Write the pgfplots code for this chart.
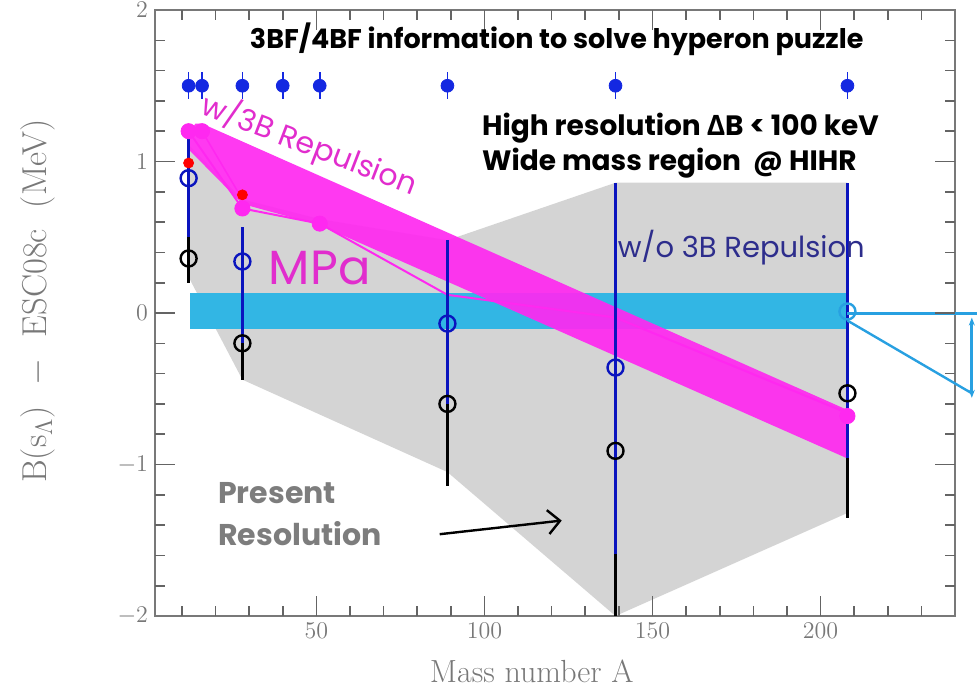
\documentclass[border=0pt]{standalone}
\usepackage{pgfplots}
\pgfplotsset{compat=1.18}
\usetikzlibrary{arrows.meta}
\usepackage{fontspec}
\newfontfamily\gothic{Poppins}
\newfontfamily\greek{Open Sans}
\definecolor{grayreg}{RGB}{212,212,212}
\definecolor{cyanb}{RGB}{50,182,228}
\definecolor{cyanl}{RGB}{40,160,225}
\definecolor{mag}{RGB}{255,40,240}
\definecolor{magtxt}{RGB}{225,45,205}
\definecolor{bluept}{RGB}{20,40,225}
\definecolor{bluebar}{RGB}{10,20,190}
\definecolor{navytxt}{RGB}{45,45,140}
\definecolor{axgray}{RGB}{120,120,120}
\definecolor{tickgray}{RGB}{100,100,100}
\definecolor{presgray}{RGB}{125,125,125}
\begin{document}
\begin{tikzpicture}
\begin{axis}[
  width=400pt, height=303pt, scale only axis,
  xmin=2, xmax=240, ymin=-2, ymax=2,
  clip=false,
  unbounded coords=jump,
  axis line style={axgray, line width=0.9pt},
  xtick={50,100,150,200},
  ytick={-2,-1,0,1,2},
  tick style={tickgray, line width=0.8pt},
  major tick length=10pt,
  tick label style={font=\large, text=axgray},
  xlabel={Mass number A},
  xlabel style={font=\fontsize{16}{19}\selectfont, text=axgray, at={(axis description cs:0.471,-0.092)}, anchor=center},
]
% Present resolution region
\addplot[fill=grayreg, draw=none] coordinates {(12.4,1.1) (28,0.75) (51,0.62) (89,0.48) (139,0.86) (208,0.86) (208,-1.32) (139,-2.0) (89,-1.05) (28,-0.44) (12.4,0.22)} -- cycle;
% HIHR band
\addplot[fill=cyanb, draw=none] coordinates {(12.4,0.13) (208,0.13) (208,-0.105) (12.4,-0.105)} -- cycle;
% w/ 3B repulsion band
\addplot[fill=mag, draw=none, fill opacity=0.92] coordinates {(12,1.18) (14,1.25) (16,1.25) (208,-0.64) (208,-0.96) (51,0.58) (28,0.72) (12,1.08)} -- cycle;
% MPa lines
\addplot[mag, line width=1pt] coordinates {(12,1.2) (28,0.69) (51,0.59) (89,0.12) (139,-0.03) (208,-0.66)};
\addplot[mag, line width=0.8pt] coordinates {(16,1.2) (28,0.75)};
% black error bars
\addplot[draw=none, mark=none, error bars/.cd, y dir=both, y explicit, error mark=none,
  error bar style={draw=black, line width=1.8pt}] coordinates {
  (12,0.36) += (0,0.26) -= (0,0.16)
  (28,-0.2) += (0,0.3) -= (0,0.24)
  (89,-0.6) += (0,0.53) -= (0,0.54)
  (139,-0.91) += (0,0.55) -= (0,1.09)
  (208,-0.53) += (0,0.0) -= (0,0.82)
};
% blue error bars
\addplot[draw=none, mark=none, error bars/.cd, y dir=both, y explicit, error mark=none,
  error bar style={draw=bluebar, line width=1.6pt}] coordinates {
  (12,0.89) += (0,0.26) -= (0,0.39)
  (28,0.34) += (0,0.23) -= (0,0.54)
  (89,-0.07) += (0,0.55) -= (0,0.53)
  (139,-0.36) += (0,1.22) -= (0,1.23)
  (208,-0.53) += (0,1.39) -= (0,0.43)
};
% circles
\addplot[only marks, mark=o, mark size=4pt, black, line width=1.2pt] coordinates {(12,0.36) (28,-0.2) (89,-0.6) (139,-0.91) (208,-0.53)};
\addplot[only marks, mark=o, mark size=4pt, bluebar, line width=1.2pt] coordinates {(12,0.89) (28,0.34) (89,-0.07) (139,-0.36)};
\addplot[only marks, mark=o, mark size=4pt, cyanl, line width=1.2pt] coordinates {(208,0.01)};
% magenta and red points
\addplot[only marks, mark=*, mark size=2.5pt, red] coordinates {(12,0.99) (28,0.78)};
\addplot[only marks, mark=*, mark size=3.8pt, mag] coordinates {(12,1.2) (16,1.2) (28,0.69) (51,0.59) (208,-0.68)};
% top blue points
\addplot[only marks, mark=*, mark size=3.2pt, bluept, error bars/.cd, y dir=both, y explicit, error mark=none,
  error bar style={draw=bluept, line width=0.8pt}] coordinates {
  (12,1.5) +- (0,0.09) (16,1.5) +- (0,0.09) (28,1.5) +- (0,0.09) (40,1.5) +- (0,0.09)
  (51,1.5) +- (0,0.09) (89,1.5) +- (0,0.09) (139,1.5) +- (0,0.09) (208,1.5) +- (0,0.09)};
% cyan annotation at right
\addplot[cyanl, line width=1.5pt] coordinates {(208,0.0) (246.5,0.0)};
\addplot[cyanl, line width=1.2pt] coordinates {(208,-0.05) (245,-0.53)};
\addplot[cyanl, line width=1.5pt, {Stealth[length=4pt]}-{Stealth[length=4pt]}] coordinates {(245,-0.03) (245,-0.56)};
% frame ticks, inside, on all four sides
\addplot[tickgray, line width=0.8pt, mark=none] coordinates {
 (10,-2) (10,-1.934) (10,nan) (20,-2) (20,-1.934) (20,nan) (30,-2) (30,-1.934) (30,nan) (40,-2) (40,-1.934) (40,nan)
 (60,-2) (60,-1.934) (60,nan) (70,-2) (70,-1.934) (70,nan) (80,-2) (80,-1.934) (80,nan) (90,-2) (90,-1.934) (90,nan)
 (110,-2) (110,-1.934) (110,nan) (120,-2) (120,-1.934) (120,nan) (130,-2) (130,-1.934) (130,nan) (140,-2) (140,-1.934) (140,nan)
 (160,-2) (160,-1.934) (160,nan) (170,-2) (170,-1.934) (170,nan) (180,-2) (180,-1.934) (180,nan) (190,-2) (190,-1.934) (190,nan)
 (210,-2) (210,-1.934) (210,nan) (220,-2) (220,-1.934) (220,nan) (230,-2) (230,-1.934) (230,nan)
 (50,-2) (50,-1.868) (50,nan) (100,-2) (100,-1.868) (100,nan) (150,-2) (150,-1.868) (150,nan) (200,-2) (200,-1.868) (200,nan)
};
\addplot[tickgray, line width=0.8pt, mark=none] coordinates {
 (10,2) (10,1.934) (10,nan) (20,2) (20,1.934) (20,nan) (30,2) (30,1.934) (30,nan) (40,2) (40,1.934) (40,nan)
 (60,2) (60,1.934) (60,nan) (70,2) (70,1.934) (70,nan) (80,2) (80,1.934) (80,nan) (90,2) (90,1.934) (90,nan)
 (110,2) (110,1.934) (110,nan) (120,2) (120,1.934) (120,nan) (130,2) (130,1.934) (130,nan) (140,2) (140,1.934) (140,nan)
 (160,2) (160,1.934) (160,nan) (170,2) (170,1.934) (170,nan) (180,2) (180,1.934) (180,nan) (190,2) (190,1.934) (190,nan)
 (210,2) (210,1.934) (210,nan) (220,2) (220,1.934) (220,nan) (230,2) (230,1.934) (230,nan)
 (50,2) (50,1.868) (50,nan) (100,2) (100,1.868) (100,nan) (150,2) (150,1.868) (150,nan) (200,2) (200,1.868) (200,nan)
};
\addplot[tickgray, line width=0.8pt, mark=none] coordinates {
 (2,-1.8) (4.98,-1.8) (4.98,nan) (2,-1.6) (4.98,-1.6) (4.98,nan) (2,-1.4) (4.98,-1.4) (4.98,nan) (2,-1.2) (4.98,-1.2) (4.98,nan)
 (2,-0.8) (4.98,-0.8) (4.98,nan) (2,-0.6) (4.98,-0.6) (4.98,nan) (2,-0.4) (4.98,-0.4) (4.98,nan) (2,-0.2) (4.98,-0.2) (4.98,nan)
 (2,0.2) (4.98,0.2) (4.98,nan) (2,0.4) (4.98,0.4) (4.98,nan) (2,0.6) (4.98,0.6) (4.98,nan) (2,0.8) (4.98,0.8) (4.98,nan)
 (2,1.2) (4.98,1.2) (4.98,nan) (2,1.4) (4.98,1.4) (4.98,nan) (2,1.6) (4.98,1.6) (4.98,nan) (2,1.8) (4.98,1.8) (4.98,nan)
 (2,-1) (7.95,-1) (7.95,nan) (2,0) (7.95,0) (7.95,nan) (2,1) (7.95,1) (7.95,nan)
};
\addplot[tickgray, line width=0.8pt, mark=none] coordinates {
 (240,-1.8) (237.02,-1.8) (237.02,nan) (240,-1.6) (237.02,-1.6) (237.02,nan) (240,-1.4) (237.02,-1.4) (237.02,nan) (240,-1.2) (237.02,-1.2) (237.02,nan)
 (240,-0.8) (237.02,-0.8) (237.02,nan) (240,-0.6) (237.02,-0.6) (237.02,nan) (240,-0.4) (237.02,-0.4) (237.02,nan) (240,-0.2) (237.02,-0.2) (237.02,nan)
 (240,0.2) (237.02,0.2) (237.02,nan) (240,0.4) (237.02,0.4) (237.02,nan) (240,0.6) (237.02,0.6) (237.02,nan) (240,0.8) (237.02,0.8) (237.02,nan)
 (240,1.2) (237.02,1.2) (237.02,nan) (240,1.4) (237.02,1.4) (237.02,nan) (240,1.6) (237.02,1.6) (237.02,nan) (240,1.8) (237.02,1.8) (237.02,nan)
 (240,-1) (234.05,-1) (234.05,nan) (240,0) (234.05,0) (234.05,nan) (240,1) (234.05,1) (234.05,nan)
};
% y label
\node[rotate=90, anchor=center, font=\LARGE, text=axgray] at (rel axis cs:-0.146,0.52) {B(s$_\Lambda$)\ \ $-$\ \ ESC08c\ \ (MeV)};
% texts
\node[font=\gothic\bfseries\fontsize{13.5}{16}\selectfont] at (axis cs:121.5,1.81) {3BF/4BF information to solve hyperon puzzle};
\node[anchor=west, inner sep=0pt, font=\gothic\bfseries\fontsize{14}{17}\selectfont] at (axis cs:99.2,1.22) {High resolution {\greek\bfseries Δ}B < 100 keV};
\node[anchor=west, inner sep=0pt, font=\gothic\bfseries\fontsize{14}{17}\selectfont] at (axis cs:99.2,0.99) {Wide mass region\ \ @ HIHR};
\node[rotate=-21, text=magtxt, font=\gothic\fontsize{15}{18}\selectfont] at (axis cs:48,1.11) {w/3B Repulsion};
\node[text=magtxt, font=\gothic\fontsize{24}{28}\selectfont] at (axis cs:51,0.30) {MPa};
\node[anchor=west, inner sep=0pt, text=navytxt, font=\gothic\fontsize{14.5}{17}\selectfont] at (axis cs:139.6,0.43) {w/o 3B Repulsion};
\node[anchor=west, inner sep=0pt, align=left, text=presgray, font=\gothic\bfseries\fontsize{15}{21}\selectfont] at (axis cs:20.7,-1.33) {Present\\Resolution};
\draw[black, line width=1.2pt, -{Straight Barb[length=6pt]}] (axis cs:86.7,-1.46) -- (axis cs:123,-1.37);
\end{axis}
\pgfresetboundingbox
\path[use as bounding box] ([xshift=-77.5pt, yshift=-40pt]current axis.south west) rectangle ([xshift=11pt, yshift=5pt]current axis.north east);
\end{tikzpicture}
\end{document}
